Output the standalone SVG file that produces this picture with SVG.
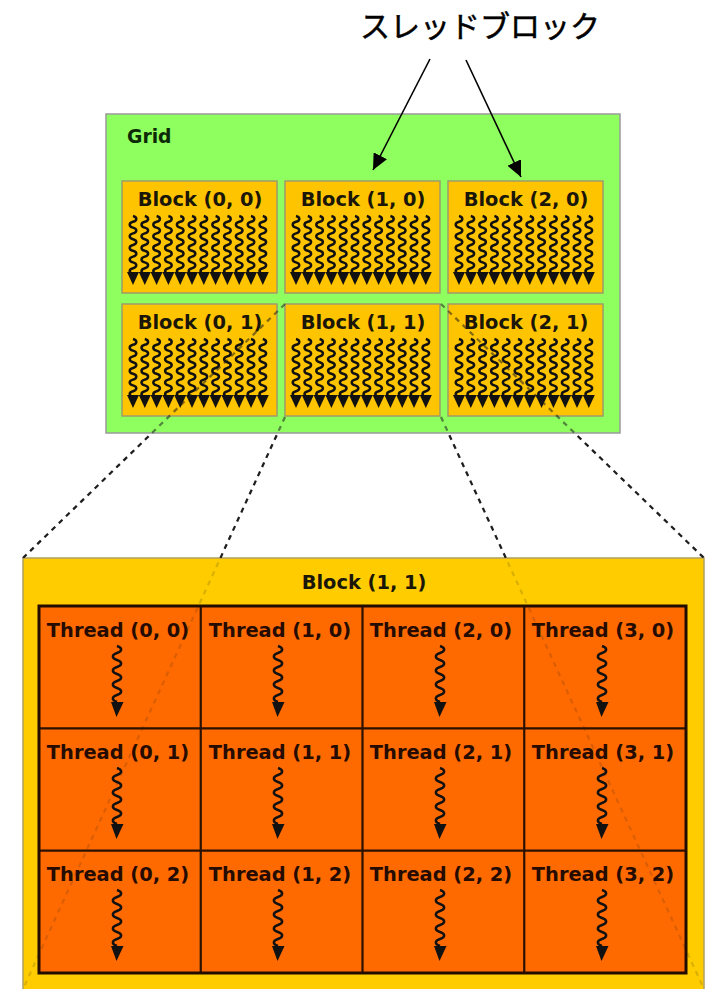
<svg xmlns="http://www.w3.org/2000/svg" xmlns:xlink="http://www.w3.org/1999/xlink" width="710" height="989" viewBox="0 0 710 989">
  <style>
    .title { font-family: "Noto Sans CJK JP", "Noto Sans", sans-serif; font-size: 30px; font-weight: 400; fill: #000; stroke: #000; stroke-width: 0.5; }
    .lbl { font-family: "DejaVu Sans", Verdana, sans-serif; font-weight: bold; font-size: 19.4px; text-anchor: middle; }
    .grid-box { fill: #8fff60; stroke: #9a9a9a; stroke-width: 1.5; }
    .block { fill: #ffc400; stroke: #a09a6a; stroke-width: 1.5; }
    .big-block { fill: #ffcc00; stroke: #b0a060; stroke-width: 1.5; }
    .cell { fill: #ff6a00; }
    .cell-line { stroke: #2b1100; stroke-width: 2.2; fill: none; }
    .frame { stroke: #220c00; stroke-width: 3; fill: none; }
    .wave { fill: none; stroke: #111; stroke-width: 2.5; stroke-linejoin: round; }
    .head { fill: #111; }
    .pointer { stroke: #000; stroke-width: 1.6; fill: none; }
    .dash { stroke: #1e1e1e; stroke-width: 2.2; stroke-dasharray: 5 5; fill: none; }
  </style>
  <defs>
    <marker id="tip" markerUnits="userSpaceOnUse" markerWidth="17" markerHeight="15" refX="16" refY="7.5" orient="auto">
      <path d="M0,0 L16,7.5 L0,15 z" fill="#000"/>
    </marker>
    <!-- one thread inside a grid block: wavy line + arrowhead -->
    <g id="bthread">
      <path class="wave" d="M0,0 c4.4,1.2 4.4,4.6 0,5.8 c-4.4,1.2 -4.4,4.6 0,5.8 c4.4,1.2 4.4,4.6 0,5.8 c-4.4,1.2 -4.4,4.6 0,5.8 c4.4,1.2 4.4,4.6 0,5.8 c-4.4,1.2 -4.4,4.6 0,5.8 c4.4,1.2 4.4,4.6 0,5.8 c-4.4,1.2 -4.4,4.6 0,5.8 c4.4,1.2 4.4,4.6 0,5.8 c-4.4,1.2 -4.4,4.6 0,5.8"/>
      <polygon class="head" points="-6,56 6,56 0,69"/>
    </g>
    <!-- twelve threads in a row -->
    <g id="bthreads">
      <use xlink:href="#bthread" x="0"/>
      <use xlink:href="#bthread" x="11.8"/>
      <use xlink:href="#bthread" x="23.6"/>
      <use xlink:href="#bthread" x="35.4"/>
      <use xlink:href="#bthread" x="47.2"/>
      <use xlink:href="#bthread" x="59"/>
      <use xlink:href="#bthread" x="70.8"/>
      <use xlink:href="#bthread" x="82.6"/>
      <use xlink:href="#bthread" x="94.4"/>
      <use xlink:href="#bthread" x="106.2"/>
      <use xlink:href="#bthread" x="118"/>
      <use xlink:href="#bthread" x="129.8"/>
    </g>
    <!-- single thread glyph inside a thread cell -->
    <g id="tthread">
      <path class="wave" d="M-2,0 c5.5,1.8 5.5,5.2 0,7 c-5.5,1.8 -5.5,5.2 0,7 c5.5,1.8 5.5,5.2 0,7 c-5.5,1.8 -5.5,5.2 0,7 c5.5,1.8 5.5,5.2 0,7 c-5.5,1.8 -5.5,5.2 0,7 c5.5,1.8 5.5,5.2 0,7 c-5.5,1.8 -5.5,5.2 0,7"/>
      <polygon class="head" points="-8,56 4.5,56 -2.5,71"/>
    </g>
    <clipPath id="gapClip"><rect x="0" y="433" width="710" height="125"/></clipPath>
    <clipPath id="gridClip"><rect x="106" y="114" width="514" height="319"/></clipPath>
  </defs>

  <rect width="710" height="989" fill="#fff"/>

  <!-- caption -->
  <g id="caption">
    <text class="title" x="480" y="37" text-anchor="middle">スレッドブロック</text>
  </g>

  <!-- grid with 3x2 blocks -->
  <g id="grid">
    <rect class="grid-box" x="106" y="114" width="514" height="319"/>
    <text class="lbl" x="127" y="143" style="text-anchor:start;font-size:18.8px;fill:#0c2a06">Grid</text>
  </g>
  <g id="block-0-0">
    <rect class="block" x="122" y="181" width="155" height="112"/>
    <text class="lbl" x="200" y="206" fill="#1a1608">Block (0, 0)</text>
    <use xlink:href="#bthreads" x="133" y="216"/>
  </g>
  <g id="block-1-0">
    <rect class="block" x="285" y="181" width="155" height="112"/>
    <text class="lbl" x="363" y="206" fill="#1a1608">Block (1, 0)</text>
    <use xlink:href="#bthreads" x="296" y="216"/>
  </g>
  <g id="block-2-0">
    <rect class="block" x="448" y="181" width="155" height="112"/>
    <text class="lbl" x="526" y="206" fill="#1a1608">Block (2, 0)</text>
    <use xlink:href="#bthreads" x="459" y="216"/>
  </g>
  <g id="block-0-1">
    <rect class="block" x="122" y="304" width="155" height="112"/>
    <text class="lbl" x="200" y="329" fill="#1a1608">Block (0, 1)</text>
    <use xlink:href="#bthreads" x="133" y="339"/>
  </g>
  <g id="block-1-1">
    <rect class="block" x="285" y="304" width="155" height="112"/>
    <text class="lbl" x="363" y="329" fill="#1a1608">Block (1, 1)</text>
    <use xlink:href="#bthreads" x="296" y="339"/>
  </g>
  <g id="block-2-1">
    <rect class="block" x="448" y="304" width="155" height="112"/>
    <text class="lbl" x="526" y="329" fill="#1a1608">Block (2, 1)</text>
    <use xlink:href="#bthreads" x="459" y="339"/>
  </g>

  <!-- expanded block (1, 1) with its 4x3 threads -->
  <g id="block-detail">
    <rect class="big-block" x="23" y="558" width="681" height="434"/>
    <text class="lbl" x="364" y="589" fill="#1a1608">Block (1, 1)</text>
  </g>
  <g id="thread-cells">
    <rect class="cell" x="39" y="606" width="647" height="367"/>
  </g>
  <g id="thread-0-0"><text class="lbl" x="118" y="637" fill="#260c00">Thread (0, 0)</text><use xlink:href="#tthread" x="119" y="646"/></g>
  <g id="thread-1-0"><text class="lbl" x="280" y="637" fill="#260c00">Thread (1, 0)</text><use xlink:href="#tthread" x="280" y="646"/></g>
  <g id="thread-2-0"><text class="lbl" x="441" y="637" fill="#260c00">Thread (2, 0)</text><use xlink:href="#tthread" x="442" y="646"/></g>
  <g id="thread-3-0"><text class="lbl" x="603" y="637" fill="#260c00">Thread (3, 0)</text><use xlink:href="#tthread" x="604" y="646"/></g>
  <g id="thread-0-1"><text class="lbl" x="118" y="759" fill="#260c00">Thread (0, 1)</text><use xlink:href="#tthread" x="119" y="768"/></g>
  <g id="thread-1-1"><text class="lbl" x="280" y="759" fill="#260c00">Thread (1, 1)</text><use xlink:href="#tthread" x="280" y="768"/></g>
  <g id="thread-2-1"><text class="lbl" x="441" y="759" fill="#260c00">Thread (2, 1)</text><use xlink:href="#tthread" x="442" y="768"/></g>
  <g id="thread-3-1"><text class="lbl" x="603" y="759" fill="#260c00">Thread (3, 1)</text><use xlink:href="#tthread" x="604" y="768"/></g>
  <g id="thread-0-2"><text class="lbl" x="118" y="881" fill="#260c00">Thread (0, 2)</text><use xlink:href="#tthread" x="119" y="890"/></g>
  <g id="thread-1-2"><text class="lbl" x="280" y="881" fill="#260c00">Thread (1, 2)</text><use xlink:href="#tthread" x="280" y="890"/></g>
  <g id="thread-2-2"><text class="lbl" x="441" y="881" fill="#260c00">Thread (2, 2)</text><use xlink:href="#tthread" x="442" y="890"/></g>
  <g id="thread-3-2"><text class="lbl" x="603" y="881" fill="#260c00">Thread (3, 2)</text><use xlink:href="#tthread" x="604" y="890"/></g>
  <g id="thread-lines">
    <path class="cell-line" d="M200.75,606 V973 M362.5,606 V973 M524.25,606 V973 M39,728.3 H686 M39,850.7 H686"/>
    <rect class="frame" x="39" y="606" width="647" height="367"/>
  </g>

  <!-- connectors: pointers from the caption and projection lines of block (1, 1) -->
  <g id="connectors">
    <line class="pointer" x1="430" y1="59" x2="373" y2="170" marker-end="url(#tip)"/>
    <line class="pointer" x1="466" y1="60" x2="521" y2="177" marker-end="url(#tip)"/>

    <g id="projection-faint" opacity="0.16">
      <path class="dash" d="M285,304 L23,558"/>
      <path class="dash" d="M285,417 L23,989"/>
      <path class="dash" d="M441,304 L704,558"/>
      <path class="dash" d="M441,417 L704,989"/>
    </g>
    <g id="projection-grid" clip-path="url(#gridClip)" opacity="0.45">
      <path class="dash" d="M285,304 L23,558"/>
      <path class="dash" d="M285,417 L23,989"/>
      <path class="dash" d="M441,304 L704,558"/>
      <path class="dash" d="M441,417 L704,989"/>
    </g>
    <g id="projection" clip-path="url(#gapClip)">
      <path class="dash" d="M285,304 L23,558"/>
      <path class="dash" d="M285,417 L23,989"/>
      <path class="dash" d="M441,304 L704,558"/>
      <path class="dash" d="M441,417 L704,989"/>
    </g>
  </g>
</svg>
